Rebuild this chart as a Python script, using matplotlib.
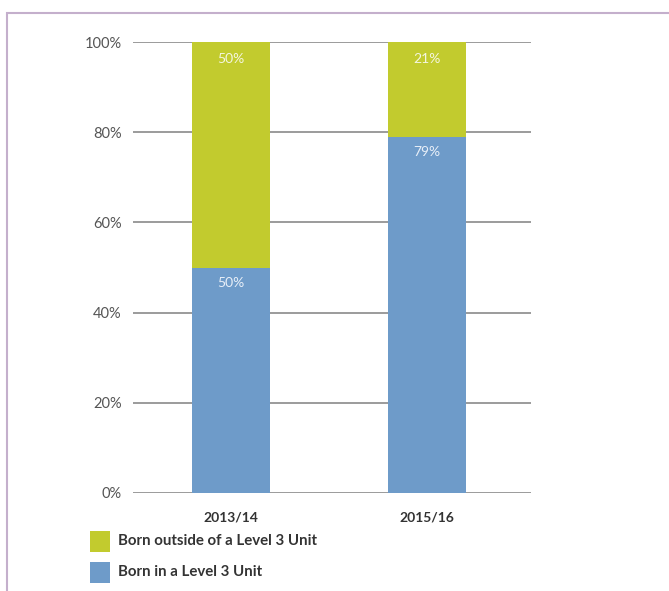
import matplotlib
matplotlib.use("Agg")
import matplotlib.pyplot as plt
from matplotlib.patches import Rectangle

categories = ["2013/14", "2015/16"]
born_in = [50, 79]
born_outside = [50, 21]
series_labels = ["Born outside of a Level 3 Unit", "Born in a Level 3 Unit"]
yticks = [0, 20, 40, 60, 80, 100]

green = "#c2cb2e"
blue = "#6e9bc9"

plt.rcParams['font.family'] = ['Lato', 'DejaVu Sans']

W, H = 669, 591
fig = plt.figure(figsize=(W / 100, H / 100), dpi=100)
fig.patch.set_facecolor("white")

# border
fig.add_artist(Rectangle((7 / W, -0.05), 1.2, 1 - 13 / H + 0.05, transform=fig.transFigure,
                         fill=False, edgecolor="#c4afcc", linewidth=1.5))

ax = fig.add_axes([133 / W, 1 - 493 / H, (531 - 133) / W, (493 - 42) / H])
x = list(range(len(categories)))
ax.set_xlim(-0.5, 1.53)
ax.set_ylim(0, 100)
for v in yticks:
    ax.axhline(v, color="#8a8a8a", linewidth=1.2, zorder=1)
ax.bar(x, born_in, width=0.40, color=blue, zorder=2)
ax.bar(x, born_outside, width=0.40, bottom=born_in, color=green, zorder=2)

for i in x:
    ax.text(i, 100 - 3.7, f"{born_outside[i]}%", ha="center", va="center",
            color="#f4f6e0", fontsize=10, zorder=3)
    ax.text(i, born_in[i] - 3.5, f"{born_in[i]}%", ha="center", va="center",
            color="#e8eff8", fontsize=10, zorder=3)

for s in ax.spines.values():
    s.set_visible(False)
ax.set_yticks(yticks)
ax.set_yticklabels([f"{v}%" for v in yticks], color="#555555", fontsize=10.5)
ax.tick_params(axis="y", length=0, pad=8)
ax.set_xticks(x)
ax.set_xticklabels(categories, fontsize=10, fontweight="bold", color="#333333")
ax.tick_params(axis="x", length=0, pad=13)
ax.patch.set_alpha(0)

# legend
colors = [green, blue]
ys = [541, 572]
for lab, c, yc in zip(series_labels, colors, ys):
    fig.add_artist(Rectangle((90 / W, 1 - (yc + 10.5) / H), 20 / W, 21 / H,
                             transform=fig.transFigure, facecolor=c, edgecolor="none"))
    fig.text(118 / W, 1 - yc / H, lab, ha="left", va="center", fontsize=10.8,
             fontweight="bold", color="#333333")

fig.savefig("out.png", dpi=100)
